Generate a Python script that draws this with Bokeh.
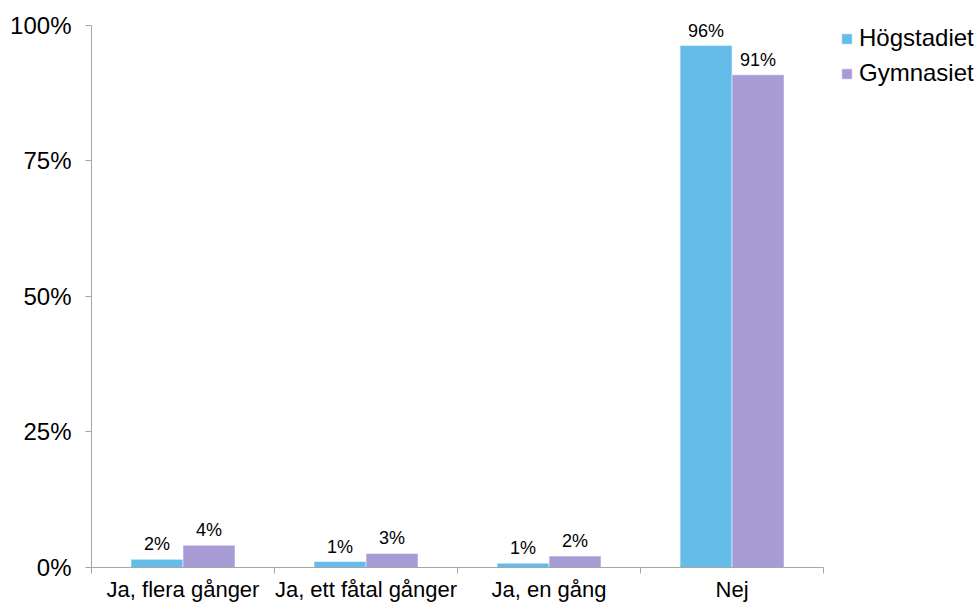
from bokeh.plotting import figure
from bokeh.models import Range1d, FixedTicker, PrintfTickFormatter, ColumnDataSource, Legend, LegendItem
from bokeh.embed import file_html
from bokeh.resources import INLINE
from bokeh.core.properties import value

categories = ["Ja, flera gånger", "Ja, ett fåtal gånger", "Ja, en gång", "Nej"]
series_names = ["Högstadiet", "Gymnasiet"]
hogstadiet = [1.5, 1.1, 0.8, 96.3]
gymnasiet = [4.1, 2.6, 2.1, 90.9]
y_ticks = [0, 25, 50, 75, 100]
colors = ["#63BDE8", "#A89CD6"]

FONT = "Liberation Sans"
bar_w = 0.284
n = len(categories)

p = figure(width=979, height=604, output_backend="svg", toolbar_location=None,
           x_range=Range1d(0, n * 4.852 / 4), y_range=Range1d(0, 103.87),
           min_border_left=91, min_border_right=0, min_border_top=4, min_border_bottom=37)
p.outline_line_color = None
p.xgrid.visible = False
p.ygrid.visible = False
p.background_fill_color = "white"
p.border_fill_color = "white"

centers = [i + 0.5 for i in range(n)]
items = []
for k, (vals, name) in enumerate(zip([hogstadiet, gymnasiet], series_names)):
    off = -bar_w / 2 if k == 0 else bar_w / 2
    xs = [c + off for c in centers]
    src = ColumnDataSource(dict(x=xs, top=vals, lab=[f"{round(v)}%" for v in vals]))
    r = p.vbar(x="x", top="top", bottom=0, width=bar_w, source=src, fill_color=colors[k],
               line_color="white", line_alpha=0.5, line_width=1)
    items.append(LegendItem(label=name, renderers=[r]))
    p.text(x="x", y="top", text="lab", source=src, text_align="center", text_baseline="bottom",
           y_offset=-5, text_font=value(FONT), text_font_size="18px", text_color="#000000")

# x axis: labels at category centers, boundary ticks via minor ticks
xa = p.xaxis[0]
xa.bounds = (0, n)
xa.ticker = FixedTicker(ticks=centers, minor_ticks=list(range(n + 1)))
xa.major_label_overrides = {c: lab for c, lab in zip(centers, categories)}
xa.major_tick_out = 0
xa.major_tick_in = 0
xa.minor_tick_out = 6
xa.minor_tick_in = 0
xa.minor_tick_line_color = "#A6A6A6"
xa.axis_line_color = "#A6A6A6"
xa.major_label_text_font = FONT
xa.major_label_text_font_size = "22px"
xa.major_label_text_color = "#000000"
xa.major_label_standoff = 3

ya = p.yaxis[0]
ya.ticker = FixedTicker(ticks=y_ticks)
ya.bounds = (0, 100)
ya.formatter = PrintfTickFormatter(format="%d%%")
ya.major_tick_out = 6
ya.major_tick_in = 0
ya.minor_tick_out = 0
ya.minor_tick_in = 0
ya.major_tick_line_color = "#A6A6A6"
ya.axis_line_color = "#A6A6A6"
ya.major_label_text_font = FONT
ya.major_label_text_font_size = "24px"
ya.major_label_text_color = "#000000"
ya.major_label_standoff = 14

lg = Legend(items=items, location=(749, 477))
lg.border_line_alpha = 0
lg.background_fill_alpha = 0
lg.padding = 0
lg.margin = 0
lg.spacing = 1
lg.glyph_width = 13
lg.glyph_height = 13
lg.label_height = 34
lg.label_standoff = 6
lg.label_text_font = FONT
lg.label_text_font_size = "24px"
lg.label_text_color = "#000000"
p.add_layout(lg)

open("out.html", "w").write(file_html(p, INLINE))
